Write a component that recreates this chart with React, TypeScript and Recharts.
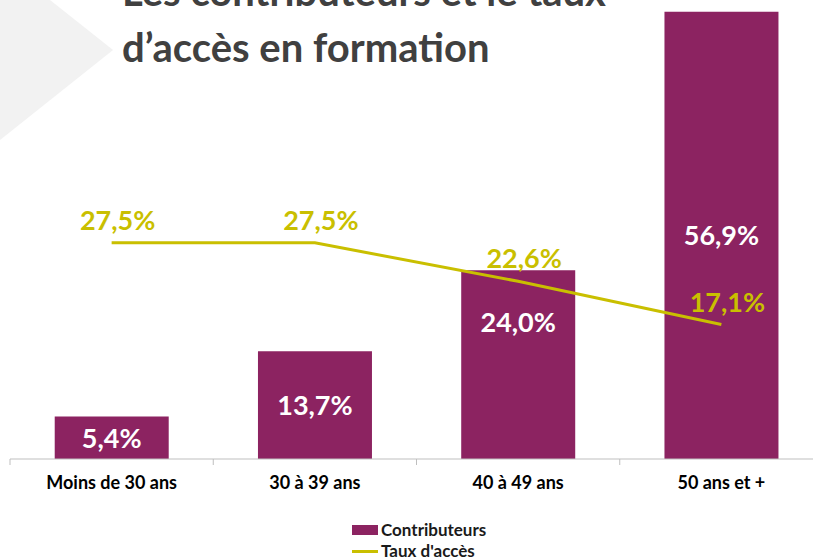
import React from 'react';
import { ComposedChart, Bar, Line, XAxis, YAxis, LabelList, Legend } from 'recharts';

const AGE_GROUPS = ['Moins de 30 ans', '30 à 39 ans', '40 à 49 ans', '50 ans et +'];
const CONTRIBUTEURS = [5.4, 13.7, 24.0, 56.9];
const TAUX_ACCES = [27.5, 27.5, 22.6, 17.1];
const TITLE_LINES = ['Les contributeurs et le taux', 'd\u2019accès en formation'];

const data = AGE_GROUPS.map((name, i) => ({
  name,
  contributeurs: CONTRIBUTEURS[i],
  taux: TAUX_ACCES[i],
}));

const PURPLE = '#8C2361';
const YELLOW = '#C9BF00';
const FONT = 'Lato, "Open Sans", sans-serif';

const CHART_W = 830;
const CHART_H = 560;
const MARGIN = { top: 3, right: 7, left: 10, bottom: 4 };
const HALF_BAND = (CHART_W - MARGIN.left - MARGIN.right) / AGE_GROUPS.length / 2;

// the 24,0% label sits higher in its bar so the line does not cross it
const BAR_LABEL_NUDGE: Record<number, number> = { 2: -43 };

const fmt = (v: number) => `${v.toFixed(1).replace('.', ',')}%`;

const AxisTick = (props: any) => {
  const { x, y, payload } = props;
  return (
    <g>
      <line x1={x - HALF_BAND} x2={x - HALF_BAND} y1={y} y2={y + 6} stroke="#BFBFBF" />
      <text
        x={x}
        y={y + 30}
        textAnchor="middle"
        fontFamily={FONT}
        fontWeight={700}
        fontSize={18}
        fill="#000"
      >
        {payload.value}
      </text>
    </g>
  );
};

const BarLabel = (props: any) => {
  const { x, y, width, height, value, index } = props;
  const cy = y + height / 2 + (BAR_LABEL_NUDGE[index] || 0);
  return (
    <text
      x={x + width / 2}
      y={cy + 10}
      textAnchor="middle"
      fontFamily={FONT}
      fontWeight={700}
      fontSize={27}
      fill="#fff"
    >
      {fmt(value)}
    </text>
  );
};

const LineLabel = (props: any) => {
  const { x, y, value } = props;
  return (
    <text
      x={x + 6}
      y={y - 13}
      textAnchor="middle"
      fontFamily={FONT}
      fontWeight={700}
      fontSize={27}
      fill={YELLOW}
    >
      {fmt(value)}
    </text>
  );
};

const LegendContent = (props: any) => {
  const { payload = [] } = props;
  return (
    <div
      style={{
        height: 52,
        position: 'relative',
        fontFamily: FONT,
        fontWeight: 700,
        fontSize: 17,
        lineHeight: '18px',
        color: '#1a1a1a',
      }}
    >
      {payload.map((entry: any, i: number) => (
        <div
          key={`leg-${i}`}
          style={{
            position: 'absolute',
            left: 342,
            top: 17 + i * 21,
            height: 18,
            display: 'flex',
            alignItems: 'center',
            whiteSpace: 'nowrap',
          }}
        >
          {entry.type === 'line' ? (
            <span style={{ width: 26, height: 3, background: entry.color, marginRight: 3 }} />
          ) : (
            <span style={{ width: 26, height: 10, background: entry.color, marginRight: 3 }} />
          )}
          {entry.value}
        </div>
      ))}
    </div>
  );
};

const App: React.FC = () => {
  return (
    <div
      style={{
        position: 'absolute',
        top: 0,
        left: 0,
        width: 813,
        height: 560,
        overflow: 'hidden',
        background: '#fff',
      }}
    >
      <svg width={813} height={560} style={{ position: 'absolute', top: 0, left: 0 }}>
        <polygon points="0,0 50,0 113,50 0,140" fill="#F2F2F2" />
        {TITLE_LINES.map((line, i) => (
          <text
            key={`title-${i}`}
            x={122}
            y={6 + i * 56}
            fontFamily={FONT}
            fontWeight={700}
            fontSize={40}
            fill="#404040"
          >
            {line}
          </text>
        ))}
      </svg>
      <div style={{ position: 'absolute', top: 0, left: 0 }}>
        <ComposedChart width={CHART_W} height={CHART_H} data={data} margin={MARGIN} barCategoryGap="22%">
          <XAxis
            dataKey="name"
            axisLine={{ stroke: '#BFBFBF' }}
            tickLine={false}
            tickSize={0}
            tickMargin={0}
            height={45}
            interval={0}
            tick={<AxisTick />}
          />
          <YAxis hide domain={[0, 58]} />
          <Legend verticalAlign="bottom" content={<LegendContent />} />
          <Bar
            dataKey="contributeurs"
            name="Contributeurs"
            fill={PURPLE}
            legendType="rect"
            isAnimationActive={false}
          >
            <LabelList dataKey="contributeurs" content={<BarLabel />} />
          </Bar>
          <Line
            type="linear"
            dataKey="taux"
            name="Taux d'accès"
            stroke={YELLOW}
            strokeWidth={3}
            dot={false}
            legendType="line"
            isAnimationActive={false}
          >
            <LabelList dataKey="taux" content={<LineLabel />} />
          </Line>
        </ComposedChart>
      </div>
    </div>
  );
};

export default App;
